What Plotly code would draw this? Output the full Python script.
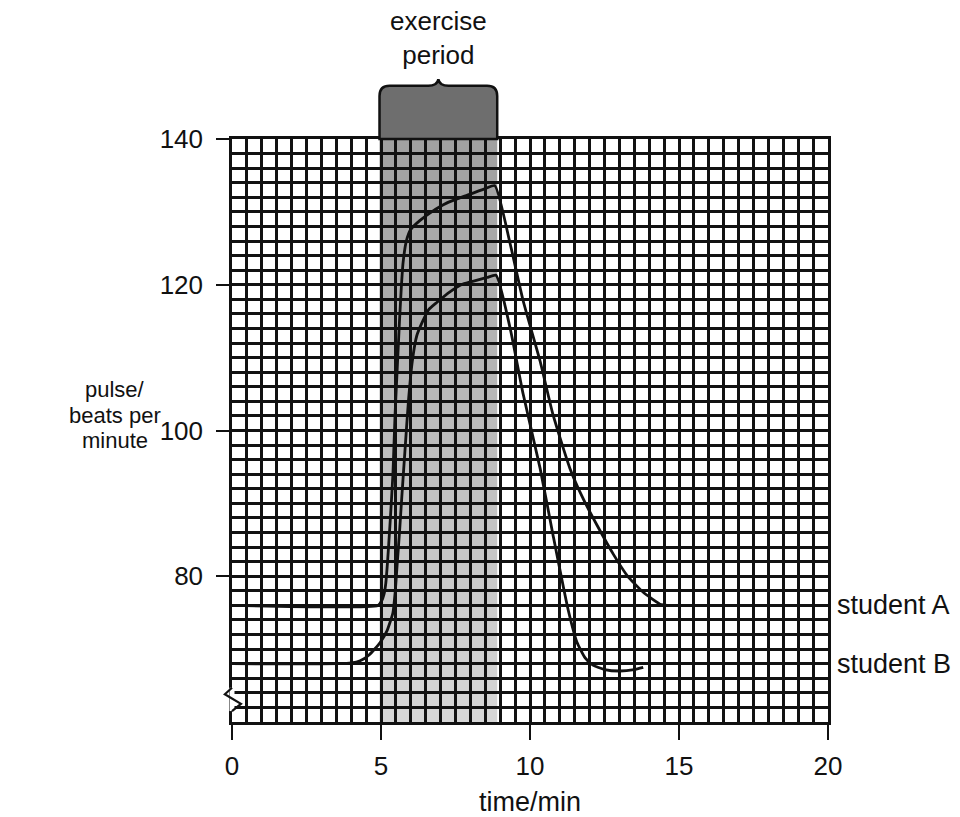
import plotly.graph_objects as go

# Pulse readings (beats per minute) against time (min)
time_a = [0, 4.9, 5.02, 5.1, 5.16, 5.22, 5.3, 5.4, 5.47, 5.55, 5.62, 5.68, 5.74, 5.85, 6.0,
          6.3, 6.7, 7.2, 7.9, 8.5, 8.82, 9.33, 9.77, 10.34, 10.77, 11.34, 11.8, 12.25,
          12.8, 13.26, 13.8, 14.4, 14.6]
pulse_a = [76, 76, 76.6, 77.5, 79, 82, 87, 94, 102, 109, 115, 119.5, 123, 126, 127.6,
           128.8, 130, 131.2, 132.3, 133.2, 133.6, 125.7, 117.8, 109.5, 102.2, 94.8, 90.5, 87.0,
           83.0, 80.1, 77.8, 76.1, 76]

time_b = [0, 3.6, 4.0, 4.3, 4.6, 4.97, 5.2, 5.4, 5.48, 5.54, 5.62, 5.7, 5.8, 5.92, 6.05, 6.2,
          6.4, 6.6, 6.88, 7.3, 7.75, 8.2, 8.56, 8.86, 9.33, 9.77, 10.34, 10.77, 11.28,
          11.58, 11.85, 12.11, 12.5, 13.02, 13.5, 13.8]
pulse_b = [68, 68, 68.1, 68.4, 69.2, 70.9, 72.5, 75, 78, 81.5, 86, 91, 97, 104, 109.5, 113,
           115, 116.6, 117.6, 119, 120.1, 120.6, 121, 121.3, 114.1, 105, 94.8, 85.7, 75.4,
           70.9, 68.8, 67.8, 67.2, 67.0, 67.2, 67.5]

student_labels = ["student A", "student B"]
x_ticks = [0, 5, 10, 15, 20]
y_ticks = [80, 100, 120, 140]
x_range = [0, 20]
y_range = [60, 140]
exercise_period = [4.95, 8.9]

FONT = "Liberation Sans, Arial, sans-serif"
INK = "#111111"


def px(t):
    return (t - x_range[0]) / (x_range[1] - x_range[0])


def py(v):
    return (v - y_range[0]) / (y_range[1] - y_range[0])


fig = go.Figure()
for t, p in ((time_a, pulse_a), (time_b, pulse_b)):
    fig.add_trace(go.Scatter(x=t, y=p, mode="lines",
                             line=dict(color=INK, width=2.8, shape="spline", smoothing=0.5),
                             showlegend=False, hoverinfo="skip"))

shapes = []

# shaded exercise band inside the grid, darker towards the top
n_strips = 40
for i in range(n_strips):
    lo = y_range[0] + (y_range[1] - y_range[0]) * i / n_strips
    hi = y_range[0] + (y_range[1] - y_range[0]) * (i + 1) / n_strips
    f = (i + 0.5) / n_strips
    g = int(round(215 - f * 55))
    shapes.append(dict(type="rect", xref="x", yref="y", layer="below",
                       x0=exercise_period[0], x1=exercise_period[1], y0=lo, y1=hi,
                       line=dict(width=0), fillcolor=f"rgb({g},{g},{g})"))

# tab with a curly-brace top above the band
x0, x1 = px(exercise_period[0]), px(exercise_period[1])
xm = (x0 + x1) / 2
yt, yc = py(147.3), py(148.2)
rx, ry = 0.017, py(61.4) - py(60)
d = 0.017
tab = (f"M{x0},1 L{x0},{yt - ry} Q{x0},{yt} {x0 + rx},{yt} "
       f"L{xm - d},{yt} Q{xm - 0.002},{yt} {xm},{yc} Q{xm + 0.002},{yt} {xm + d},{yt} "
       f"L{x1 - rx},{yt} Q{x1},{yt} {x1},{yt - ry} L{x1},1 Z")
shapes.append(dict(type="path", xref="paper", yref="paper", path=tab, layer="above",
                   fillcolor="#6e6e6e", line=dict(color=INK, width=2.5)))

# break mark on the pulse axis
shapes.append(dict(type="line", xref="paper", yref="paper", layer="above",
                   x0=0, x1=0, y0=py(61.5), y1=py(64.7),
                   line=dict(color="white", width=5)))
zig = (f"M0,{py(64.7)} L{-0.012},{py(63.8)} L{0.015},{py(62.5)} L0,{py(61.5)}")
shapes.append(dict(type="path", xref="paper", yref="paper", path=zig, layer="above",
                   line=dict(color=INK, width=2.2)))

annotations = [
    dict(text="exercise<br>period", xref="paper", yref="paper", x=xm, y=1.173,
         xanchor="center", yanchor="middle", showarrow=False,
         font=dict(family=FONT, size=26, color=INK)),
]
for line, yv in zip(["pulse/", "beats per", "minute"], [105.6, 102.0, 98.6]):
    annotations.append(dict(text=line, xref="paper", yref="y", x=-0.196, y=yv,
                            xanchor="center", yanchor="middle", showarrow=False,
                            font=dict(family=FONT, size=22, color=INK)))
for label, p in zip(student_labels, [pulse_a[-1], pulse_b[0]]):
    annotations.append(dict(text=label, xref="paper", yref="y", x=1.012, y=p,
                            xanchor="left", yanchor="middle", showarrow=False,
                            font=dict(family=FONT, size=27, color=INK)))

grid = dict(showgrid=True, gridcolor=INK, gridwidth=3)

fig.update_layout(
    width=960, height=817, template="none",
    margin=dict(l=232, r=132, t=139, b=95),
    paper_bgcolor="white", plot_bgcolor="white",
    font=dict(family=FONT, size=26, color=INK),
    showlegend=False,
    shapes=shapes, annotations=annotations,
    xaxis=dict(range=x_range, tickmode="array", tickvals=x_ticks,
               ticks="outside", ticklen=15, tickwidth=2, tickcolor=INK,
               showline=True, linecolor=INK, linewidth=3, mirror=True,
               zeroline=False, ticklabelstandoff=4,
               minor=dict(tickmode="linear", tick0=0, dtick=0.5, **grid),
               title=dict(text="time/min", standoff=18,
                          font=dict(family=FONT, size=27, color=INK)),
               **grid),
    yaxis=dict(range=y_range, tickmode="array", tickvals=y_ticks,
               ticks="outside", ticklen=13, tickwidth=2, tickcolor=INK,
               showline=True, linecolor=INK, linewidth=2.5, mirror=True,
               zeroline=False, ticklabelstandoff=8,
               minor=dict(tickmode="linear", tick0=60, dtick=2, **grid),
               **grid),
)

fig.write_html("out.html")
